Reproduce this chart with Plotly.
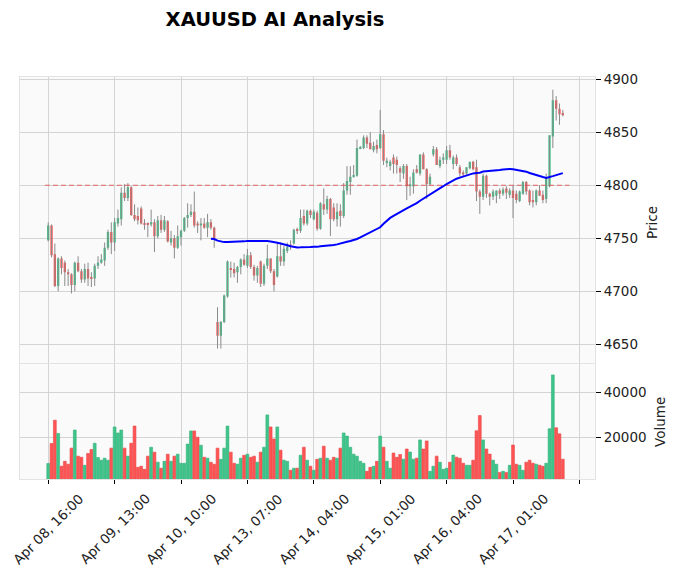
import plotly.graph_objects as go
import pandas as pd

# ---------------- data (hourly XAUUSD bars, index based x) ----------------
opens = [4748, 4762, 4735, 4705, 4731, 4727, 4718, 4716, 4706, 4727,
         4719, 4711, 4721, 4713, 4712, 4724, 4727, 4729, 4741, 4756,
         4746, 4764, 4768, 4793, 4788, 4798, 4772, 4771, 4778, 4764,
         4764, 4763, 4765, 4752, 4767, 4758, 4766, 4746, 4750, 4741,
         4751, 4757, 4769, 4772, 4775, 4764, 4762, 4764, 4760, 4765,
         4760, 4671, 4658, 4671, 4695, 4722, 4721, 4718, 4723, 4730,
         4724, 4734, 4723, 4715, 4728, 4707, 4724, 4731, 4719, 4714,
         4733, 4728, 4738, 4744, 4745, 4758, 4757, 4771, 4764, 4776,
         4768, 4774, 4759, 4782, 4777, 4787, 4779, 4768, 4776, 4771,
         4795, 4803, 4808, 4809, 4835, 4835, 4845, 4840, 4833, 4838,
         4835, 4848, 4821, 4818, 4826, 4824, 4816, 4811, 4818, 4799,
         4799, 4815, 4811, 4829, 4815, 4801, 4829, 4834, 4818, 4824,
         4824, 4833, 4820, 4826, 4817, 4812, 4811, 4816, 4822, 4817,
         4794, 4789, 4809, 4792, 4789, 4790, 4795, 4792, 4797, 4791,
         4795, 4792, 4785, 4792, 4803, 4795, 4786, 4784, 4795, 4791,
         4787, 4799, 4846, 4880, 4872, 4868]
highs = [4765, 4763, 4745, 4732, 4733, 4729, 4721, 4717, 4728, 4733,
         4721, 4726, 4727, 4718, 4726, 4733, 4735, 4746, 4758, 4765,
         4769, 4777, 4798, 4801, 4802, 4799, 4782, 4779, 4780, 4768,
         4765, 4777, 4768, 4771, 4772, 4771, 4767, 4757, 4753, 4762,
         4758, 4770, 4783, 4782, 4794, 4766, 4769, 4769, 4773, 4768,
         4761, 4685, 4672, 4697, 4729, 4728, 4727, 4724, 4731, 4735,
         4740, 4737, 4725, 4724, 4729, 4726, 4744, 4731, 4721, 4746,
         4746, 4743, 4746, 4748, 4759, 4760, 4777, 4777, 4777, 4777,
         4777, 4776, 4784, 4797, 4790, 4788, 4783, 4783, 4782, 4802,
         4818, 4818, 4819, 4843, 4837, 4847, 4847, 4850, 4841, 4843,
         4871, 4852, 4826, 4824, 4829, 4827, 4818, 4820, 4820, 4808,
         4815, 4819, 4829, 4831, 4816, 4811, 4837, 4836, 4827, 4830,
         4837, 4838, 4828, 4829, 4819, 4814, 4817, 4822, 4823, 4824,
         4796, 4811, 4810, 4793, 4796, 4795, 4797, 4798, 4799, 4797,
         4800, 4795, 4795, 4804, 4804, 4796, 4795, 4796, 4800, 4795,
         4811, 4847, 4890, 4884, 4877, 4871]
lows = [4747, 4732, 4704, 4700, 4716, 4705, 4705, 4698, 4700, 4718,
        4708, 4708, 4705, 4704, 4705, 4721, 4726, 4724, 4739, 4735,
        4738, 4761, 4762, 4785, 4785, 4771, 4766, 4763, 4763, 4758,
        4751, 4761, 4737, 4750, 4755, 4756, 4746, 4743, 4731, 4740,
        4743, 4756, 4760, 4770, 4760, 4755, 4748, 4759, 4751, 4758,
        4741, 4646, 4646, 4670, 4694, 4713, 4713, 4708, 4716, 4724,
        4722, 4721, 4710, 4708, 4704, 4705, 4721, 4717, 4700, 4713,
        4724, 4724, 4736, 4739, 4744, 4754, 4755, 4762, 4762, 4769,
        4767, 4757, 4758, 4772, 4773, 4752, 4766, 4761, 4761, 4769,
        4791, 4791, 4807, 4808, 4834, 4834, 4835, 4834, 4831, 4830,
        4834, 4819, 4817, 4814, 4811, 4811, 4803, 4806, 4786, 4790,
        4792, 4811, 4809, 4815, 4787, 4800, 4827, 4819, 4816, 4820,
        4820, 4824, 4815, 4818, 4808, 4808, 4810, 4815, 4814, 4785,
        4773, 4786, 4788, 4781, 4786, 4783, 4787, 4790, 4787, 4788,
        4769, 4783, 4784, 4791, 4791, 4781, 4779, 4781, 4790, 4783,
        4783, 4798, 4835, 4861, 4857, 4865]
closes = [4762, 4734, 4705, 4731, 4722, 4718, 4716, 4706, 4727, 4719,
          4711, 4721, 4712, 4712, 4724, 4727, 4730, 4741, 4756, 4746,
          4765, 4769, 4793, 4788, 4798, 4772, 4768, 4767, 4764, 4763,
          4763, 4765, 4752, 4767, 4758, 4767, 4747, 4750, 4741, 4752,
          4757, 4769, 4772, 4775, 4762, 4762, 4764, 4760, 4765, 4760,
          4750, 4658, 4671, 4696, 4728, 4720, 4717, 4723, 4730, 4725,
          4734, 4723, 4715, 4722, 4707, 4724, 4731, 4719, 4706, 4733,
          4728, 4740, 4742, 4742, 4758, 4757, 4769, 4764, 4776, 4772,
          4775, 4759, 4783, 4777, 4787, 4768, 4768, 4775, 4771, 4795,
          4804, 4808, 4809, 4835, 4836, 4845, 4839, 4834, 4837, 4834,
          4848, 4823, 4823, 4822, 4820, 4819, 4812, 4818, 4799, 4801,
          4812, 4812, 4829, 4815, 4801, 4808, 4834, 4819, 4824, 4826,
          4833, 4826, 4826, 4820, 4811, 4810, 4817, 4822, 4815, 4794,
          4789, 4809, 4792, 4789, 4794, 4795, 4792, 4796, 4793, 4795,
          4788, 4786, 4794, 4803, 4794, 4784, 4784, 4795, 4790, 4786,
          4807, 4847, 4880, 4872, 4867, 4866]
volumes = [8200, 17200, 27600, 21700, 7000, 9200, 7900, 15100, 23200, 11500,
           11000, 7400, 12700, 14500, 17300, 10900, 9700, 10600, 9700, 15100,
           24600, 21900, 23200, 15100, 11500, 17300, 25000, 6500, 7000, 5600,
           11500, 15500, 13300, 8800, 6100, 9200, 12400, 9200, 11500, 12400,
           8300, 8300, 16900, 22800, 22800, 20000, 16400, 11000, 10600, 8800,
           7900, 15100, 10100, 15100, 25000, 13300, 8300, 7900, 10600, 11900,
           12400, 11000, 11500, 8800, 13300, 15500, 30000, 24600, 19200, 24600,
           14200, 9700, 9200, 5200, 6100, 6100, 11900, 15500, 9700, 7000,
           5200, 10100, 10600, 16000, 10600, 9700, 11000, 10600, 15100, 21900,
           20500, 15500, 12400, 11500, 9200, 8300, 4700, 6500, 7000, 9200,
           20500, 15500, 9200, 6100, 12900, 11000, 12270, 10150, 14700, 13330,
           10150, 10600, 18790, 14700, 18330, 4700, 6970, 11520, 8790, 5600,
           6060, 8790, 11970, 11060, 10600, 8330, 7420, 7420, 9700, 22880,
           29700, 18790, 14700, 12420, 9700, 7880, 4240, 4700, 4240, 7420,
           16500, 7880, 7420, 5150, 8790, 9700, 8330, 7880, 7420, 6970,
           8330, 23800, 47900, 24240, 21500, 10150]

tick_positions = [0, 20, 40, 60, 80, 100, 120, 140, 160]
tick_labels = ["Apr 08, 16:00", "Apr 09, 13:00", "Apr 10, 10:00", "Apr 13, 07:00",
               "Apr 14, 04:00", "Apr 15, 01:00", "Apr 16, 04:00", "Apr 17, 01:00", ""]
price_ticks = [4650, 4700, 4750, 4800, 4850, 4900]
volume_ticks = [20000, 40000]
hline_level = 4800
ma_period = 50

# ---------------- derived ----------------
n = len(closes)
idx = list(range(n))
ma = pd.Series(closes).rolling(ma_period).mean()

UP = "#3fc58a"
DOWN = "#ff5454"
UP_EDGE = "#33b07a"
DOWN_EDGE = "#ea4545"
colors = [UP if c >= o else DOWN for o, c in zip(opens, closes)]
edges = [UP_EDGE if c >= o else DOWN_EDGE for o, c in zip(opens, closes)]
body_base = [min(o, c) for o, c in zip(opens, closes)]
body_h = [max(abs(c - o), 0.7) for o, c in zip(opens, closes)]

wick_x, wick_y = [], []
for i, (h, l) in enumerate(zip(highs, lows)):
    wick_x += [i, i, None]
    wick_y += [l, h, None]

fig = go.Figure()
fig.add_trace(go.Scatter(x=wick_x, y=wick_y, mode="lines",
                         line=dict(color="#8a8a8a", width=1),
                         xaxis="x", yaxis="y", hoverinfo="skip", showlegend=False))
fig.add_trace(go.Bar(x=idx, y=body_h, base=body_base, width=0.7,
                     marker=dict(color=colors, line=dict(width=0)),
                     xaxis="x", yaxis="y", showlegend=False))
fig.add_trace(go.Scatter(x=[-1, n + 1], y=[hline_level, hline_level], mode="lines",
                         line=dict(color="rgba(226,80,80,0.85)", width=1.1, dash="5px,3px"),
                         xaxis="x", yaxis="y", showlegend=False, hoverinfo="skip"))
fig.add_trace(go.Scatter(x=idx, y=ma, mode="lines",
                         line=dict(color="#0000ff", width=2),
                         xaxis="x", yaxis="y", showlegend=False))
fig.add_trace(go.Bar(x=idx, y=volumes, width=0.85,
                     marker=dict(color=colors, line=dict(color=edges, width=0.6)),
                     xaxis="x2", yaxis="y2", showlegend=False))

GRID = "#d4d4d4"
FRAME = "#e3e3e3"
TXT = "#222222"
vmin = min(volumes) * 0.3
vmax = max(volumes) * 1.1
xr = [-8.5, 164.7]

# the page body adds an 8px offset, so the figure is drawn at (8, 8) in the window
OFF = 8
W, H = 678 - 2 * OFF, 576 - 2 * OFF
PL, PR, PT, PB = 20, 595, 77, 479          # plot area in window pixels
ml, mt = PL - OFF, PT - OFF
mr, mb = W - (PR - OFF), H - (PB - OFF)
ph = PB - PT

fig.update_layout(
    width=W, height=H,
    margin=dict(l=ml, r=mr, t=mt, b=mb, pad=0),
    paper_bgcolor="white", plot_bgcolor="#fafafa",
    font=dict(family="DejaVu Sans", size=13.5, color=TXT),
    barmode="overlay",
    showlegend=False,
    title=dict(text="XAUUSD AI Analysis", x=(275 - OFF) / W, xref="container", xanchor="center",
               y=1 - (19 - OFF) / H, yref="container", yanchor="middle",
               font=dict(family="DejaVu Sans", size=19.5, color="black", weight="bold")),
    xaxis=dict(domain=[0, 1], anchor="y", range=xr, tickvals=tick_positions,
               showticklabels=False, ticks="", showgrid=True, gridcolor=GRID, gridwidth=1.2,
               zeroline=False, showline=True, linecolor=FRAME, mirror=True, automargin=False),
    xaxis2=dict(domain=[0, 1], anchor="y2", range=xr, matches="x", tickvals=tick_positions,
                showticklabels=False, ticks="outside", ticklen=4, tickcolor="#000", tickwidth=1,
                showgrid=True, gridcolor=GRID, gridwidth=1.2, zeroline=False,
                showline=True, linecolor=FRAME, mirror=True, automargin=False),
    yaxis=dict(domain=[0.2875, 1], anchor="x", side="right", range=[4632, 4902],
               tickvals=price_ticks, ticktext=[str(v) for v in price_ticks],
               ticks="outside", ticklen=5, tickcolor="#000", tickwidth=1,
               showgrid=True, gridcolor=GRID, gridwidth=1.2, zeroline=False,
               showline=True, linecolor=FRAME, mirror=True, automargin=False),
    yaxis2=dict(domain=[0, 0.2855], anchor="x2", side="right", range=[vmin, vmax],
                tickvals=volume_ticks, ticktext=[str(v) for v in volume_ticks],
                ticks="outside", ticklen=5, tickcolor="#000", tickwidth=1,
                showgrid=True, gridcolor=GRID, gridwidth=1.2, zeroline=False,
                showline=True, linecolor=FRAME, mirror=True, automargin=False),
)

annotations = []
for pos, lab in zip(tick_positions, tick_labels):
    if lab:
        annotations.append(dict(x=pos, xref="x2", y=-9 / ph, yref="paper", text=lab,
                                textangle=-45, xanchor="center", yanchor="top",
                                showarrow=False, font=dict(size=13.5, color=TXT)))
annotations.append(dict(x=(652 - PL) / (PR - PL), xref="paper", y=(PB - 223) / ph, yref="paper",
                        text="Price", textangle=-90, showarrow=False,
                        xanchor="center", yanchor="middle", font=dict(size=13.5, color=TXT)))
annotations.append(dict(x=(660 - PL) / (PR - PL), xref="paper", y=(PB - 422) / ph, yref="paper",
                        text="Volume", textangle=-90, showarrow=False,
                        xanchor="center", yanchor="middle", font=dict(size=13.5, color=TXT)))
fig.update_layout(annotations=annotations)

fig.write_html("out.html", config={"displayModeBar": False})
